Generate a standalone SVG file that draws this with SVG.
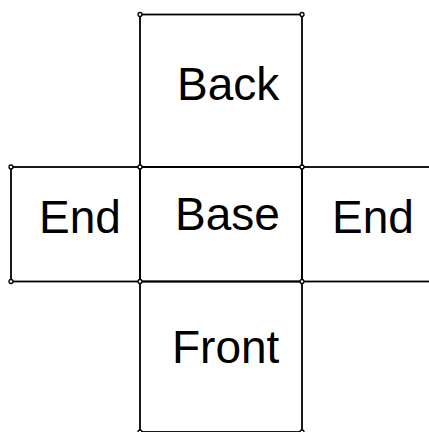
<svg xmlns="http://www.w3.org/2000/svg" width="429" height="432" viewBox="0 0 429 432">
<style>
.face{fill:none;stroke:#000;stroke-width:1.8}
.v{fill:#fff;stroke:#000;stroke-width:1.3}
.lbl{font-family:"Liberation Sans",Arial,sans-serif;font-size:46px;fill:#000}
</style>
<rect width="429" height="432" fill="#fff"/>
<g id="back">
<rect class="face" x="140" y="14.5" width="162" height="152.5"/>
<text class="lbl" x="177" y="100">Back</text>
</g>
<g id="end-left">
<rect class="face" x="11" y="167" width="129" height="114.5"/>
<text class="lbl" x="39" y="233">End</text>
</g>
<g id="base">
<rect class="face" x="140" y="167" width="162" height="114.5"/>
<text class="lbl" x="175" y="230">Base</text>
</g>
<g id="end-right">
<rect class="face" x="302" y="167" width="130" height="114.5"/>
<text class="lbl" x="332" y="233">End</text>
</g>
<g id="front">
<rect class="face" x="140" y="281.5" width="162" height="150.5"/>
<text class="lbl" x="172" y="363">Front</text>
</g>
<g id="connectors">
<circle class="v" cx="140" cy="14.5" r="2"/>
<circle class="v" cx="302" cy="14.5" r="2"/>
<circle class="v" cx="11" cy="167" r="2"/>
<circle class="v" cx="140" cy="167" r="2"/>
<circle class="v" cx="302" cy="167" r="2"/>
<circle class="v" cx="11" cy="281.5" r="2"/>
<circle class="v" cx="140" cy="281.5" r="2"/>
<circle class="v" cx="302" cy="281.5" r="2"/>
<circle class="v" cx="140" cy="432" r="2"/>
<circle class="v" cx="302" cy="432" r="2"/>
</g>
</svg>
